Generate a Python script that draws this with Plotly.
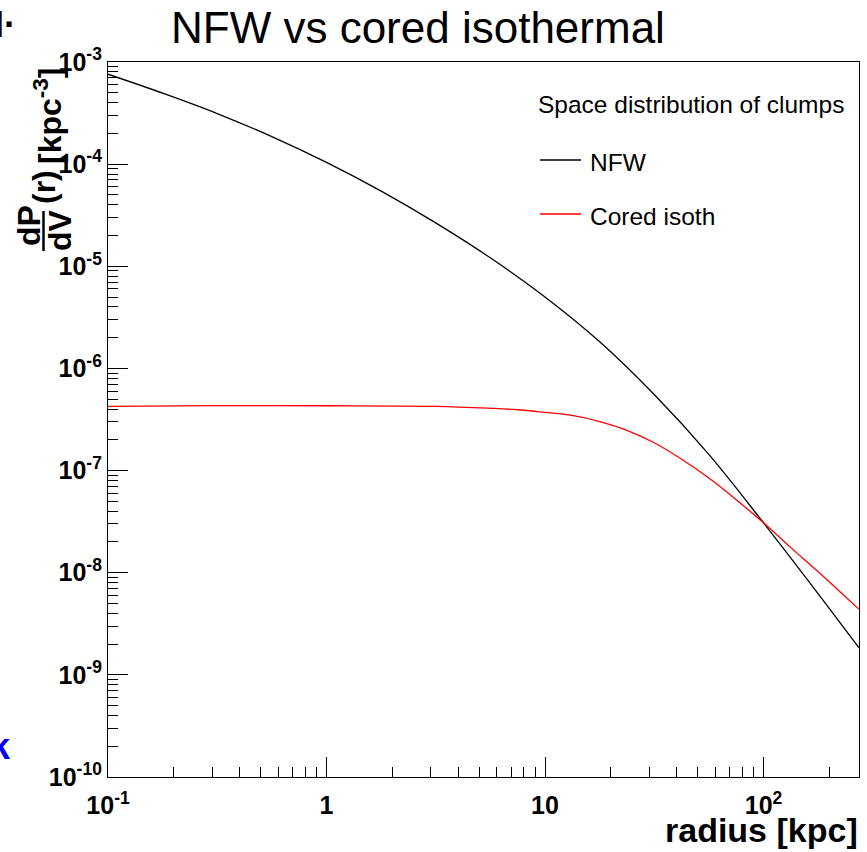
import plotly.graph_objects as go

# radius [kpc] and clump space densities dP/dV [kpc^-3]
nfw_r = [0.1, 0.178, 0.316, 0.562, 1.0, 1.78, 3.16, 5.62, 10.0, 17.8, 31.6,
         56.2, 100.0, 178.0, 273.0]
nfw_rho = [7.59e-4, 4.95e-4, 3.13e-4, 1.86e-4, 1.04e-4, 5.44e-5, 2.66e-5,
           1.21e-5, 5.00e-6, 1.82e-6, 5.55e-7, 1.44e-7, 3.08e-8, 6.22e-9,
           1.85e-9]

iso_r = [0.1, 0.316, 1.0, 3.16, 5.62, 7.5, 10.0, 13.3, 17.8, 23.7, 31.6, 42.2,
         56.2, 75.0, 100.0, 133.0, 178.0, 237.0, 273.0]
iso_rho = [4.25e-7, 4.33e-7, 4.31e-7, 4.25e-7, 4.07e-7, 3.94e-7, 3.71e-7,
           3.47e-7, 3.02e-7, 2.48e-7, 1.87e-7, 1.29e-7, 8.45e-8, 5.19e-8,
           3.08e-8, 1.77e-8, 1.02e-8, 5.82e-9, 4.40e-9]

series_names = ["NFW", "Cored isoth"]
series_colors = ["#000000", "#ff0000"]
legend_title = "Space distribution of clumps"
chart_title = "NFW vs cored isothermal"

x_tickvals = [0.1, 1, 10, 100]
x_ticktext = ["10<sup>-1</sup>", "1", "10", "10<sup>2</sup>"]
y_exponents = list(range(-10, -2))
y_tickvals = [10.0 ** e for e in y_exponents]
y_ticktext = ["10<sup>%d</sup>" % e for e in y_exponents]

W, H = 867, 852
L, R, T, B = 108, 8, 62, 75
PW, PH = W - L - R, H - T - B


def px(x):
    return (x - L) / PW


def py(y):
    return (H - B - y) / PH


FONT = "Liberation Sans, Arial, Helvetica, sans-serif"

fig = go.Figure()
for r, rho, name, col in [(nfw_r, nfw_rho, series_names[0], series_colors[0]),
                          (iso_r, iso_rho, series_names[1], series_colors[1])]:
    fig.add_trace(go.Scatter(x=r, y=rho, mode="lines", name=name,
                             line=dict(color=col, width=1.3, shape="spline", smoothing=1.0),
                             showlegend=False))

x_minor = [m * 10.0 ** k for k in range(-1, 3) for m in range(2, 10) if m * 10.0 ** k < 273]
y_minor = [m * 10.0 ** k for k in range(-10, -3) for m in range(2, 10)]

axis_common = dict(type="log", showgrid=False, zeroline=False, showline=True,
                   linecolor="black", linewidth=1.2, mirror=True, ticks="inside",
                   ticklen=20, tickwidth=1, tickcolor="black",
                   tickfont=dict(family=FONT, size=25, color="black", weight="bold"))

fig.update_xaxes(range=[-1, 2.437], tickmode="array", tickvals=x_tickvals,
                 ticktext=x_ticktext, ticklabelstandoff=6,
                 minor=dict(ticks="inside", ticklen=10, tickwidth=1, tickcolor="black",
                            tickvals=x_minor, showgrid=False),
                 **axis_common)
fig.update_yaxes(range=[-10, -3], tickmode="array", tickvals=y_tickvals,
                 ticktext=y_ticktext,
                 minor=dict(ticks="inside", ticklen=10, tickwidth=1, tickcolor="black",
                            tickvals=y_minor, showgrid=False),
                 **axis_common)


def note(x, y, text, size, bold=False, color="black", angle=0, anchor="center"):
    f = dict(family=FONT, size=size, color=color)
    if bold:
        f["weight"] = "bold"
    return dict(xref="paper", yref="paper", x=px(x), y=py(y), text=text,
                xanchor=anchor, yanchor="middle", showarrow=False,
                textangle=angle, font=f)


ann = [
    note(418, 28, chart_title, 44),
    note(860, 830, "radius [kpc]", 34, bold=True, anchor="right"),
    # y axis title: dP/dV (r) [kpc^-3]
    note(29, 226, "dP", 32, bold=True, angle=-90),
    note(60, 230, "dV", 32, bold=True, angle=-90),
    note(44, 187, "(r)", 32, bold=True, angle=-90),
    note(48, 116, "[kpc<sup>-3</sup>]", 32, bold=True, angle=-90),
    # legend
    note(536, 104, legend_title, 24.5, anchor="left"),
]
for i, name in enumerate(series_names):
    ann.append(note(588, 162 + i * 54, name, 24.5, anchor="left"))
# clipped text fragments on the left edge
ann.append(note(18, 24, "I·", 36, bold=True, anchor="right"))
ann.append(note(13, 746, "ck", 36, bold=True, color="#0000ff", anchor="right"))

shapes = [dict(type="line", xref="paper", yref="paper", x0=px(43.5), x1=px(43.5),
               y0=py(211), y1=py(251), line=dict(color="black", width=2.5))]
for i, col in enumerate(series_colors):
    yy = 160 + i * 54
    shapes.append(dict(type="line", xref="paper", yref="paper", x0=px(540), x1=px(581),
                       y0=py(yy), y1=py(yy), line=dict(color=col, width=1.3)))

fig.update_layout(width=W, height=H, margin=dict(l=L, r=R, t=T, b=B),
                  plot_bgcolor="white", paper_bgcolor="white",
                  annotations=ann, shapes=shapes, showlegend=False)

fig.write_html("out.html")
